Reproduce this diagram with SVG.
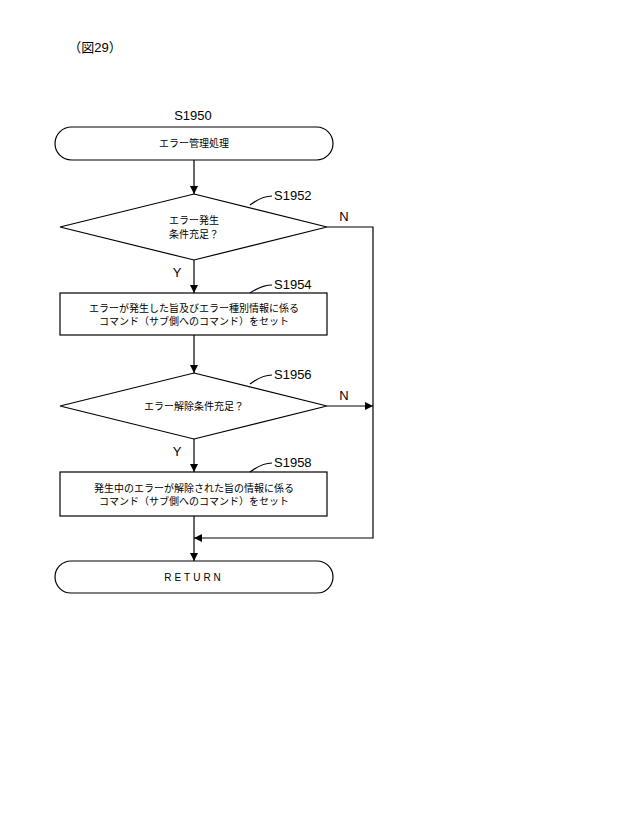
<svg xmlns="http://www.w3.org/2000/svg" width="640" height="838" viewBox="0 0 640 838">
<defs>
<marker id="ah" viewBox="0 0 10 10" refX="10" refY="5" markerWidth="8" markerHeight="8" markerUnits="userSpaceOnUse" orient="auto"><path d="M0,0 L10,5 L0,10 z" fill="#000"/></marker>
<style>
.s{fill:#fff;stroke:#000;stroke-width:1.2}
.l{fill:none;stroke:#000;stroke-width:1.2}
text{font-family:"Liberation Sans","Noto Sans CJK JP",sans-serif;font-size:10px;text-anchor:middle;fill:#000}
.lb{font-size:13px}
.st{font-size:13px;text-anchor:start}
</style>
</defs>
<rect width="640" height="838" fill="#fff"/>
<text x="95" y="52" class="lb">（図29）</text>
<g id="start"><text x="193" y="120" class="lb">S1950</text><rect class="s" x="55" y="127" width="278" height="33" rx="16.5"/><text x="194" y="147">エラー管理処理</text></g>
<g id="d1"><polygon class="s" points="194,194 327,227 194,260 60,227"/><text x="194" y="224">エラー発生</text><text x="194" y="238">条件充足？</text><path class="l" d="M250,205 Q262,196 272,196"/><text x="274" y="200" class="st">S1952</text></g>
<g id="b1"><rect class="s" x="60" y="293" width="267" height="42"/><text x="194" y="312">エラーが発生した旨及びエラー種別情報に係る</text><text x="194" y="325">コマンド（サブ側へのコマンド）をセット</text><path class="l" d="M250,293 Q262,285 272,285"/><text x="274" y="289" class="st">S1954</text></g>
<g id="d2"><polygon class="s" points="194,373 327,406 194,439 60,406"/><text x="194" y="410">エラー解除条件充足？</text><path class="l" d="M250,384 Q262,375 272,375"/><text x="274" y="379" class="st">S1956</text></g>
<g id="b2"><rect class="s" x="60" y="472" width="267" height="44"/><text x="194" y="492">発生中のエラーが解除された旨の情報に係る</text><text x="194" y="505">コマンド（サブ側へのコマンド）をセット</text><path class="l" d="M250,472 Q262,463 272,463"/><text x="274" y="467" class="st">S1958</text></g>
<g id="end"><rect class="s" x="55" y="561" width="278" height="32" rx="16"/><text x="194" y="581" style="letter-spacing:3px">RETURN</text></g>
<g id="connectors">
<line class="l" x1="194" y1="160" x2="194" y2="194" marker-end="url(#ah)"/>
<line class="l" x1="194" y1="260" x2="194" y2="293" marker-end="url(#ah)"/>
<line class="l" x1="194" y1="335" x2="194" y2="373" marker-end="url(#ah)"/>
<line class="l" x1="194" y1="439" x2="194" y2="472" marker-end="url(#ah)"/>
<line class="l" x1="194" y1="516" x2="194" y2="561" marker-end="url(#ah)"/>
<polyline class="l" points="327,227 373,227 373,538 194,538" marker-end="url(#ah)"/>
<line class="l" x1="327" y1="406" x2="373" y2="406" marker-end="url(#ah)"/>
<text x="344" y="221" class="lb">N</text><text x="344" y="400" class="lb">N</text>
<text x="177" y="277" class="lb">Y</text><text x="177" y="456" class="lb">Y</text>
</g>
</svg>
